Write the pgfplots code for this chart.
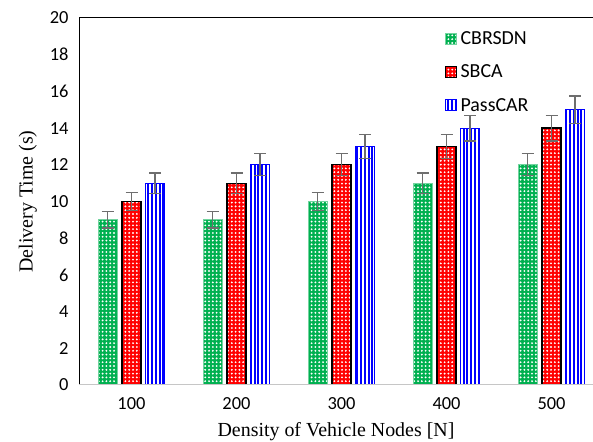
\documentclass[border=0pt]{standalone}
\usepackage{pgfplots}
\pgfplotsset{compat=1.18}
\usepackage{fontspec}
\setmainfont{Liberation Serif}
\newfontfamily\calibri{Carlito}
\usetikzlibrary{patterns.meta}
\definecolor{xlgreen}{HTML}{00B050}
\definecolor{errgray}{HTML}{6E6E6E}
\pgfplotsset{myerr/.style={error bars/.cd, y dir=both, y explicit,
  error bar style={errgray, line width=1.3pt, solid},
  error mark options={rotate=90, mark size=6bp, line width=1.3pt, errgray}}}
\begin{document}
\begin{tikzpicture}
\useasboundingbox (-79bp,-57bp) rectangle (514bp,385bp);
\begin{axis}[
  at={(0,0)}, anchor=south west,
  scale only axis, width=514bp, height=367bp,
  ybar, bar width=19bp,
  xmin=0.5, xmax=5.395, ymin=0, ymax=20,
  ytick={0,2,...,20},
  xtick={1,2,3,4,5}, xticklabels={100,200,300,400,500},
  tick label style={font=\calibri\fontsize{18.5}{20}\selectfont},
  /pgf/number format/assume math mode=true,
  major tick length=0pt,
  axis line style={draw=none},
  yticklabel style={xshift=-7bp},
  xticklabel style={yshift=-9bp},
  xlabel={Density of Vehicle Nodes [N]},
  ylabel={Delivery Time (s)},
  label style={font=\fontsize{20}{22}\selectfont},
  xlabel style={yshift=-6bp},
  ylabel style={yshift=6bp},
  legend style={at={(rel axis cs:0.705,0.975)}, anchor=north west, draw=none, fill=none,
    font=\calibri\fontsize{20}{22}\selectfont, row sep=15bp, cells={anchor=west},
    /tikz/every even column/.append style={column sep=0bp}},
  legend image code/.code={\draw[#1, line width=1pt] (0bp,-5.5bp) rectangle (11bp,5.5bp);},
  legend style={nodes={inner xsep=4bp}},
]
\addplot[bar shift=-24bp, fill=xlgreen, draw=xlgreen!55, line width=0.8pt,
  postaction={pattern={Dots[radius=1.05bp, distance=3.8bp]}, pattern color=white}, myerr]
  coordinates {(1,9) +- (0,0.45) (2,9) +- (0,0.45) (3,10) +- (0,0.5) (4,11) +- (0,0.55) (5,12) +- (0,0.6)};
\addplot[bar shift=0bp, fill=red, draw=black, line width=1.3pt,
  postaction={pattern={Dots[radius=1.05bp, distance=3.8bp]}, pattern color=white}, myerr]
  coordinates {(1,10) +- (0,0.5) (2,11) +- (0,0.55) (3,12) +- (0,0.6) (4,13) +- (0,0.65) (5,14) +- (0,0.7)};
\addplot[bar shift=23.5bp, fill=white, draw=blue, line width=1pt,
  postaction={pattern={Lines[angle=90, distance=3.8bp, line width=1.9bp]}, pattern color=blue}, myerr]
  coordinates {(1,11) +- (0,0.55) (2,12) +- (0,0.6) (3,13) +- (0,0.65) (4,14) +- (0,0.7) (5,15) +- (0,0.75)};
\legend{CBRSDN,SBCA,PassCAR}
\draw[black, line width=1pt] (rel axis cs:0,0) -- (rel axis cs:0,1) -- (rel axis cs:1,1);
\draw[gray!45, line width=1.3pt] (rel axis cs:0,0) -- (rel axis cs:1,0);
\end{axis}
\end{tikzpicture}
\end{document}
